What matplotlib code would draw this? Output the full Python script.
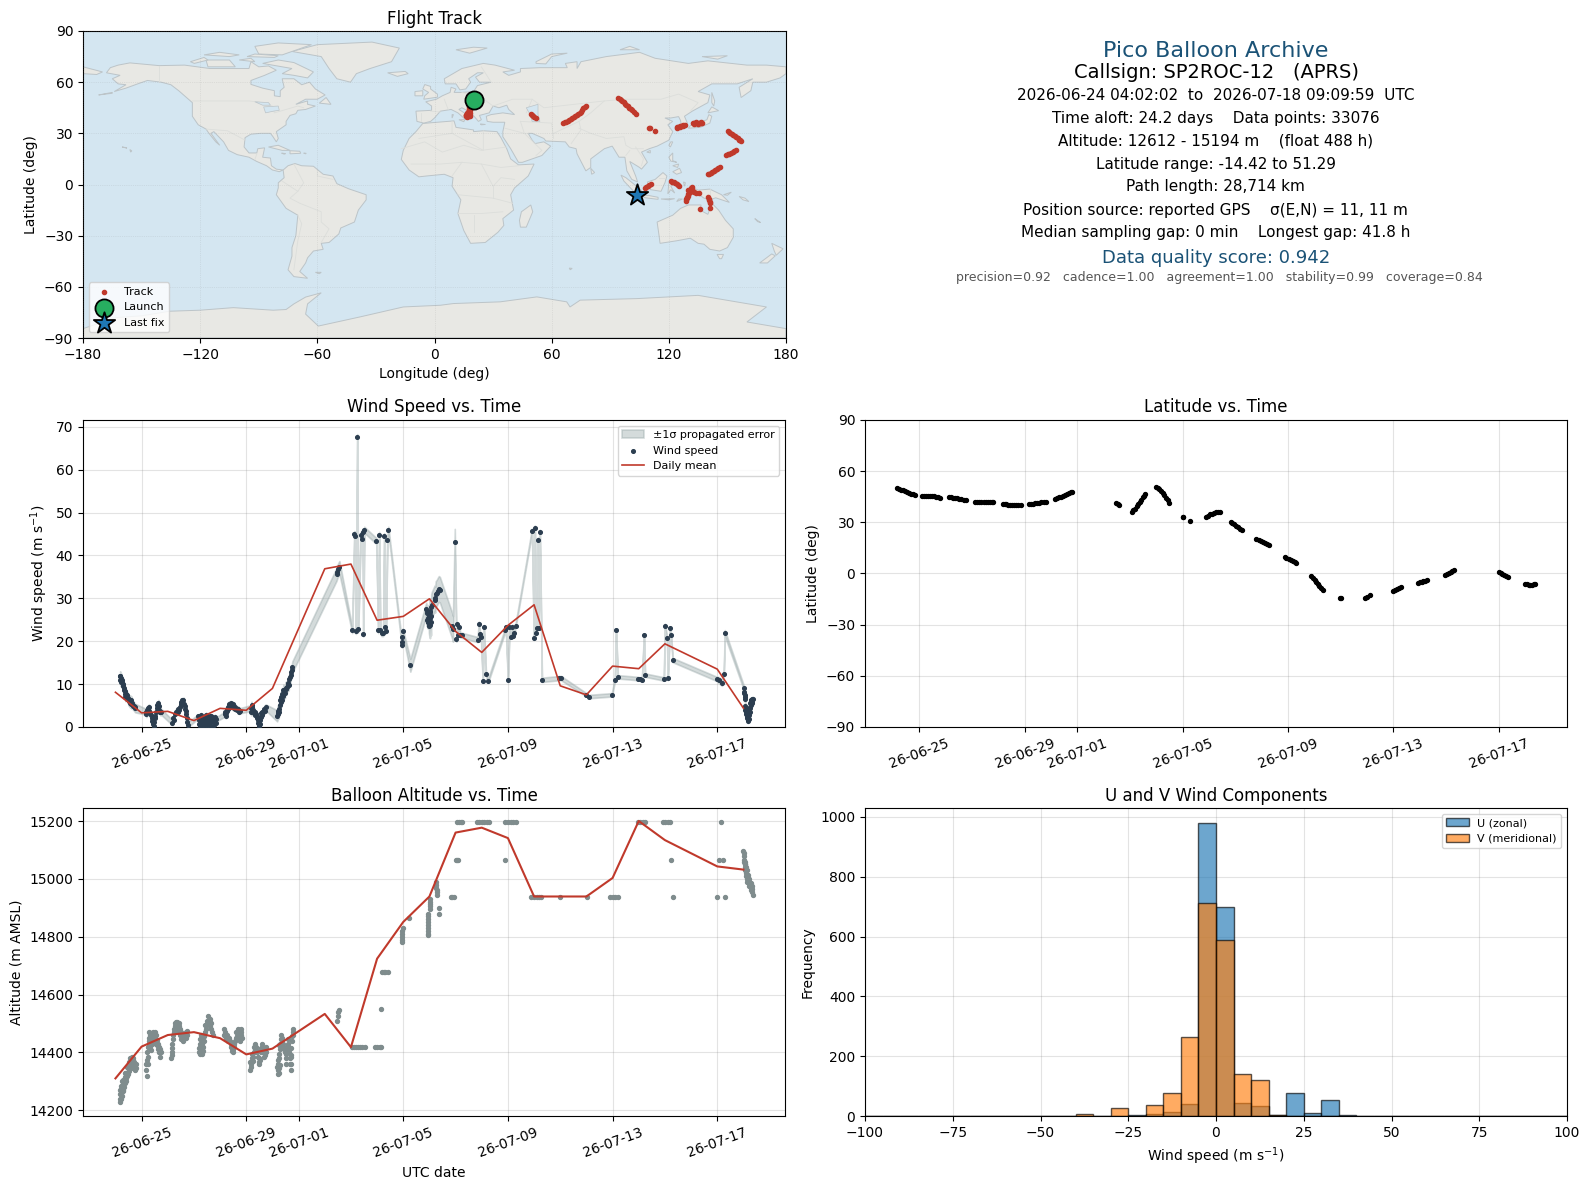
import numpy as np
import matplotlib
matplotlib.use("Agg")
import matplotlib.pyplot as plt
import matplotlib.dates as mdates
from matplotlib.patches import Polygon

# all times are days since 2026-06-24 00:00 UTC
START = np.datetime64("2026-06-24T00:00:00")

# --- map outlines (lon, lat) ---
north_america = [(-168,65.5),(-166,68.5),(-162,70),(-156,71.3),(-141,69.7),(-128,70),(-115,68),(-108,68),(-95,68),(-94,72),(-90,69),(-85,69.5),(-81,67),(-87,64),(-94,61),(-94,58.7),(-88,56.5),(-82,55),(-82,52),(-79,51.5),(-79,55),(-77,57),(-78,62),(-72,62),(-68,58.5),(-64,60),(-61,56),(-56,52.5),(-60,50),(-66,50),(-71,47),(-65,49),(-65,47),(-61,46),(-66,44),(-70,43.5),(-71,41.5),(-74,40.5),(-76,37),(-76,35),(-81,31),(-80,27),(-81,25),(-82.7,28),(-84,30),(-89,30),(-94,29.5),(-97,27.5),(-97.5,22),(-95,18.5),(-91,18.5),(-90.5,21),(-87,21.5),(-88,16),(-84,15.5),(-83.5,11),(-81,9),(-77.5,8.5),(-79.5,7.5),(-83,8.5),(-86,11),(-91,13.5),(-95,16),(-101,17.5),(-105.5,20),(-108,25),(-113,31),(-114.5,30),(-110,23),(-112,25),(-115.5,30),(-117,32.5),(-121,35),(-124,40),(-124,48),(-127,51),(-131,55),(-135,58.5),(-140,60),(-147,61),(-152,59),(-158,56.5),(-164,54.5),(-158,58.5),(-162,59),(-165,62),(-161,64)]
south_america = [(-77.5,8.5),(-75,11),(-71.5,12.3),(-68,11),(-62,10.7),(-57,6),(-52,5),(-50,0.5),(-44,-2.5),(-35,-6),(-35,-9),(-39,-15),(-41,-22),(-48,-25.5),(-49,-29),(-54,-34),(-58,-34.5),(-57,-38),(-62,-39),(-65,-43),(-66,-46),(-69,-51),(-65,-55),(-72,-54),(-75,-50),(-73,-42),(-73,-37),(-71,-30),(-70,-18),(-76,-14),(-81,-6),(-80,-2),(-80,1),(-77,4)]
africa = [(-6,35.8),(10,37.3),(11,33.5),(20,32),(20,31),(25,31.5),(32,31),(34,27.5),(37,21),(39,15),(43,11.5),(51,12),(48,5),(41,-2),(39,-6),(40.5,-15),(35,-20),(35.5,-24),(32.5,-28),(26,-34),(18.5,-34.5),(15,-27),(12,-17),(13.5,-9),(9,-1),(9.5,4),(5,6),(-4,5),(-8,4.5),(-13,8.5),(-17,14.7),(-16,20),(-13,27),(-9.5,31)]
eurasia = [(-9,37),(-9.5,43),(-1.5,43.5),(-1.5,46),(-4.5,48.5),(1,50),(4,52),(8,54),(8.5,57),(11,56),(10,54),(14,54),(20,54.5),(22,58),(29,60),(23,60),(21,63),(25,65.5),(22,65.5),(17.5,62),(18.5,60),(16,56),(13,55.5),(11,59),(5.5,59),(5,62),(14,68),(25,71),(31,70),(41,67),(35,66),(38,64),(44,66),(44,68),(54,68.5),(68,68.5),(67,71),(73,72),(73,68),(75,72),(88,75),(105,77.5),(113,74),(130,71),(140,72.5),(160,70),(170,70),(180,69),(180,65),(177,62.5),(170,60),(163,60),(162,55),(157,51),(156,57),(163,62),(155,59),(142,59),(135,54.5),(141,52.5),(140,48),(132,43),(128,40),(129.5,36),(126.5,34.5),(126,37.5),(125,39.8),(121,39),(118,39),(122,37),(119.5,35),(122,31),(120,26),(114,22.5),(110,21),(106,19),(109,13),(106,9),(105,10),(100,13.5),(103,5),(104,1.5),(101,3),(98.5,8),(97.5,16),(94.5,16),(91,22.5),(87,21),(80,15),(80,10),(77.5,8),(73,18),(72.5,21),(69,22),(67,25),(57,25.5),(56,27),(50,30),(48,30),(50,26),(51.5,24),(56,25),(59.5,22.5),(55,17),(45,13),(43,13),(39,21),(35,28),(35,31),(36,36.5),(30,36.5),(27,37),(26.5,40),(29,41),(35,42),(41,41),(38,44),(37,46.5),(33,45),(30,46),(28,42),(23,40.5),(24,38),(22.5,37),(19.5,41),(19,42),(14,45),(12.5,44),(18,40),(16,38),(12,42),(8.5,44),(3,43),(0,39),(-2,37),(-5.5,36)]
australia = [(114,-22),(122,-18),(126,-14),(130,-12),(136.5,-12),(136,-15),(140,-17.5),(142,-11),(145.5,-15),(149,-21),(153,-26),(153,-31),(150,-37),(146,-39),(141,-38),(138,-35),(135,-34.5),(131,-31.5),(124,-33),(115.5,-34.5),(115,-30)]
greenland = [(-73,78),(-60,82),(-32,83.5),(-18,80),(-22,72),(-33,68),(-40,65),(-43,60),(-50,62),(-54,68),(-58,75)]
antarctica = [(-180,-84.5),(-163,-78),(-150,-77),(-135.6,-74.3),(-120,-73.7),(-103,-72.2),(-82.6,-73.7),(-76,-73.3),(-72,-70),(-66,-66),(-58,-63.5),(-65,-70),(-66,-76),(-59.5,-83),(-38,-77.6),(-16,-71.8),(3,-70.8),(9.7,-69.8),(33.6,-68.8),(52.4,-65.9),(67.7,-68.8),(69.4,-71.8),(74.6,-67.8),(103.6,-66.9),(135,-65),(170,-71.8),(160,-80.6),(180,-84.5),(180,-90),(-180,-90)]
islands = [
    [(-180,69),(-175,67.5),(-170,66),(-173,64.5),(-180,65)],
    [(-80,73),(-72,71.5),(-62,66),(-65,62.5),(-72,64),(-78,65),(-73,68),(-88,71)],
    [(-117,73),(-105,73),(-102,69),(-116,69)],
    [(-90,76.5),(-78,76),(-63,82),(-80,83),(-92,81)],
    [(-125,72),(-118,74.5),(-116,73),(-123,71)],
    [(-96,75),(-82,74.5),(-80,75.5),(-92,76.5)],
    [(-118,76),(-105,75),(-100,76),(-110,77.5)],
    [(-100,73),(-92,72),(-94,74)],
    [(-59,47.7),(-53,47),(-55.5,51)],
    [(-85,22),(-80,23),(-74,20),(-78,20)],
    [(-74,19.8),(-69,19.5),(-68.5,18.3),(-74,18)],
    [(-67,18.4),(-65.7,18.3),(-66,18)],
    [(-78.3,18.4),(-76.3,18.1),(-77,17.8)],
    [(-24,65.5),(-15,66.3),(-13.5,65),(-19,63.4)],
    [(-5.5,50),(1.5,51.2),(1.5,53),(-2,56),(-2,57.5),(-5,58.6),(-6,56),(-3,54),(-5,52)],
    [(-10,52),(-6,52),(-6,55),(-10,54.5)],
    [(11,79),(20,80.5),(27,80),(18,77)],
    [(52,71),(57,70.7),(60,75),(68,77),(60,76.5),(52,72)],
    [(95,79),(105,79),(100,81)],
    [(137,75),(150,75.5),(145,73.5)],
    [(142,54),(143.5,49),(143,46),(142,48)],
    [(130,33),(136,33.5),(141,36),(142,40),(140.5,41),(139.5,38),(136,36.5),(131,34.5)],
    [(140,42),(145.5,43.3),(142,45.5)],
    [(120,23),(121,25),(122,25),(120.8,22)],
    [(108.7,19),(110.5,20),(110.5,18.5)],
    [(120,16),(122,18.5),(122,14),(124,13),(121,13.7)],
    [(122,7.5),(125.5,9.5),(126.5,7),(124,6)],
    [(122,11),(125,12),(124.5,10)],
    [(95.5,5.5),(98,4),(104,-1.5),(106,-3.5),(105.5,-6),(102,-4),(97,2)],
    [(105.5,-6.5),(110,-6.5),(114.5,-7.5),(114.5,-8.7),(108,-7.8)],
    [(109,1.5),(113,3),(117,7),(119,5),(118,1),(116,-4),(110.5,-3)],
    [(119.5,-5.5),(120,1),(125,1.5),(121,-1),(123,-5),(121,-3)],
    [(131,-1),(135,-3.3),(141,-2.7),(147,-6),(151,-10.5),(144,-7.8),(141,-9),(138,-8),(133,-4)],
    [(148,-6),(152,-4.5),(150,-6.3)],
    [(156,-7),(159,-8),(161,-10),(158,-9)],
    [(124,-10),(127,-8.5),(125,-8.5)],
    [(116,-8.5),(123,-8.3),(120,-9)],
    [(127.5,1.5),(128,-1),(128.5,1)],
    [(80,9.5),(82,7),(80.5,6)],
    [(49.3,-12),(50.3,-16),(47,-25),(44,-25),(43.5,-21),(44.5,-16)],
    [(144.7,-41),(148,-41),(147,-43.5),(146,-43.5)],
    [(172.7,-34.5),(178.5,-37.7),(175,-41.5),(174,-39)],
    [(172.7,-40.7),(174.5,-41.8),(170.5,-46),(166.5,-46)],
    [(164,-20),(167,-22.3),(165.5,-21.8)],
    [(69,-49),(70.5,-49.2),(69.5,-50)],
    [(-61,-51.5),(-58,-51.5),(-59,-52.3)],
    [(-156,20.5),(-155,19.7),(-155.6,19)],
    [(-160,22),(-157.5,21.3),(-158,21.6)],
    [(-172,52.5),(-165,54),(-165,53.5)],
    [(9,41),(9.7,41),(9,39)],
    [(12.5,38),(15.5,38),(15,36.8)],
    [(23.5,35.5),(26,35.2),(24,35)],
]
inland_water = [
    [(47,45),(53,47),(53,41),(54,37),(50,37),(49,41)],
    [(-92,48.5),(-85,48),(-84,46.5),(-88,46.5)],
    [(-87.5,45.5),(-80,46),(-79.5,43.5),(-82.5,43),(-86.5,42)],
]
borders = [
    [(-141,69.7),(-141,60)], [(-124,49),(-95,49),(-88,48),(-83,46),(-82,42),(-76,44),(-70,46),(-67,45)],
    [(-117,32.5),(-106,31.5),(-97,26)], [(-92,14.5),(-91,18)], [(-72,12),(-67,1),(-70,-4),(-74,-8),(-69,-11),(-58,-16),(-58,-22),(-54,-26),(-58,-34)],
    [(-60,8),(-60,5),(-52,3)], [(-78,2),(-70,-4)], [(-70,-18),(-68,-23),(-70,-33),(-72,-50)], [(-8,27),(9,30),(9,37)], [(9,30),(25,20),(25,31.5)],
    [(-17,21),(-5,25),(4,19),(15,23),(24,20),(37,22)], [(-12,12),(3,12),(14,13),(24,12),(34,10),(43,11)], [(14,13),(9,5)], [(24,12),(30,-1),(34,4),(41,3)],
    [(12,-6),(30,-8),(40,-11)], [(12,-17),(24,-17),(35,-16)], [(20,-18),(20,-28)], [(30,-1),(30,-8)], [(36,33),(46,30),(48,30)],
    [(44,37),(46,30),(55,20),(52,17)], [(44,37),(60,36),(61,27)], [(61,30),(74,37),(75,32),(70,24)], [(74,33),(80,30),(88,27),(97,28),(98,23),(101,21),(107,21)],
    [(74,37),(80,42),(87,49),(98,50),(116,50),(125,53),(135,48),(131,43)], [(87,49),(56,45),(50,50),(47,42)], [(30,46),(40,50),(50,50)],
    [(14,54),(24,51),(30,46)], [(24,69),(29,60)], [(5,50),(7,44)], [(-2,43),(3,42.5)], [(-7,42),(-7,37)], [(98,17),(100,20)], [(103,22),(107,15),(106,11)],
    [(141,-2.7),(141,-9)], [(115,4),(118,4)],
]

# --- flight track ---
track_lon = [16,16.7,17.5,18.2,16.3,17.1,17.9,16.6,17.4,18.1,17,17.8,18.3,17.5,18.2,17.8,18.6,18.2,19,18.6,19.3,19,19.5,19.6,17.2,16,
    49.3,49.9,50.5,51.2,51.9,
    66,66.8,67.5,68.3,69,69.8,70.5,71.2,72,72.8,73.5,74.3,75,75.7,76.3,76.9,77.5,
    94.2,94.9,95.5,96.2,97,97.7,98.3,99,99.7,100.4,101,102,103,
    110,110.4,113.1,
    124,124.8,125.6,126.4,127.3,128.3,124.2,125.5,127,
    132.3,133,133.7,134.4,135.2,136,136.6,137.2,133,135,136.5,134,
    150.2,150.9,151.5,152.3,153,153.7,154.5,155.3,156,156.5,157,
    149.3,150.1,151,151.8,152.7,153.5,154.4,
    140,140.7,141.5,142.2,143,143.7,144.5,145.3,146,
    121,121.8,122.5,123.2,124,124.7,125.3,
    107.8,108.5,109.3,110,110.8,
    128.7,129,129.2,129.5,129.7,130,130.3,130.7,131,131.3,131.6,132.1,
    130,130.8,131.5,132.3,133,134,135.2,
    140.3,140.5,140.7,140.9,141.1,141,135.8]
track_lat = [40,39.8,40,40.2,40.8,41,41,41.8,42,42,42.8,43,43.5,44,44.5,45.2,45.5,46.2,46.5,47.2,47.5,48.3,49,50,41.2,40.5,
    41.6,41,40.4,39.8,39.2,
    36,36.4,36.8,37.4,38,38.5,39,39.5,40,40.6,41.2,42,42.8,43.7,44.6,45.4,46.3,
    50.8,50.2,49.6,49,48.3,47.4,46.6,45.8,45,44.3,43.5,42.5,41.6,
    33.2,33,31.4,
    33.7,33.9,34.2,34.5,34.7,35,33.2,33.8,34.3,
    36,36,36,36,36,36,36,36,35.6,35.6,36.4,36.4,
    31.2,30.6,30,29.5,29,28.4,27.8,27,26.3,25.8,25.3,
    17.3,17.6,18,18.5,19,19.6,20.2,
    5.9,6.3,6.8,7.3,7.8,8.3,8.8,9.4,10,
    1.8,1.5,1.2,0.7,0.2,-0.2,-0.6,
    -1.8,-1.2,-0.6,0,0.4,
    -9.4,-8.7,-8,-7.2,-6.5,-5.7,-5,-4.2,-3.5,-2.8,-2.2,-1.2,
    -3.5,-3.6,-3.8,-4,-4.3,-4.7,-5.1,
    -7.6,-8.4,-9.2,-10.1,-11,-13.5,-14.1]
launch_lon, launch_lat = 20, 49.6
last_lon, last_lat = 103.6, -6.1

# --- wind speed ---
wind_days = [0.17,0.19,0.2,0.22,0.25,0.28,0.31,0.35,0.38,0.42,0.46,0.5,0.55,0.6,0.67,0.73,
    1.15,1.2,1.25,1.28,1.32,1.38,1.42,1.46,1.48,1.55,1.6,1.64,1.68,1.72,
    2.18,2.22,2.3,2.38,2.44,2.5,2.55,2.6,2.64,2.68,2.72,2.76,
    3.17,3.2,3.25,3.3,3.35,3.4,3.45,3.5,3.55,3.6,3.65,3.7,3.75,3.8,3.84,
    4.18,4.22,4.26,4.3,4.34,4.4,4.48,4.55,4.62,4.7,4.76,
    5.17,5.2,5.25,5.32,5.38,5.42,5.46,5.49,5.54,5.58,5.62,5.68,5.74,
    6.2,6.22,6.24,6.28,6.3,6.33,6.38,6.42,6.5,6.56,6.6,6.65,6.7,6.74,6.76,
    8.45,8.48,8.52,8.56,9.05,9.13,9.17,9.19,9.24,9.28,9.37,9.41,9.45,9.47,9.51,
    9.97,10.04,10.08,10.12,10.17,10.23,10.27,10.3,10.34,10.39,10.43,
    10.95,10.96,10.97,10.98,11.27,
    11.88,11.9,11.92,11.94,11.96,11.98,12.0,12.03,12.05,12.07,12.09,
    12.2,12.22,12.24,12.28,12.32,12.36,12.4,
    12.87,12.9,12.97,13.03,13.05,13.08,13.13,13.18,13.23,
    13.84,13.89,13.93,13.97,14.04,14.08,14.16,14.24,
    14.9,14.92,15.0,15.06,15.11,15.17,15.2,15.23,15.29,
    15.92,15.99,16.03,16.07,16.11,16.15,16.17,16.22,16.3,16.97,17.03,
    18.0,18.1,18.97,19.09,19.13,19.2,19.97,20.03,20.12,20.2,20.24,
    20.96,21.0,21.08,21.11,21.19,21.23,21.3,22.99,23.05,23.18,23.25,23.29,
    24.02,24.03,24.05,24.06,24.07,24.08,24.1,24.12,24.14,24.16,24.18,24.2,24.22,24.24,24.26,24.28,24.3,24.33,24.36]
wind_speed = [11.0,11.8,10.5,11.5,10.6,9.5,9.0,7.8,7.0,7.2,6.6,6.0,5.6,5.3,5.0,4.6,
    3.6,4.0,4.4,4.6,3.2,2.0,0.6,0.2,1.2,3.5,5.2,5.6,4.0,3.4,
    1.0,1.6,3.6,4.1,4.0,5.3,6.2,6.3,4.8,3.8,2.0,0.5,
    2.5,0.8,0.3,2.2,0.2,1.6,0.5,2.6,0.4,1.8,0.3,2.4,0.5,2.4,1.0,
    3.0,2.6,3.8,4.7,5.4,5.5,5.3,5.0,4.5,4.2,3.8,
    4.4,5.2,3.9,3.6,3.0,2.2,1.0,0.3,1.6,3.2,3.6,4.2,4.6,
    3.0,3.2,3.4,5.2,6.2,7.0,7.8,8.6,9.2,9.4,10.3,11.2,12.2,13.2,14.0,
    35.6,36.2,36.8,37.2,22.6,45.0,44.6,22.4,67.6,22.8,44.8,43.9,45.4,21.8,46.0,
    43.4,22.6,44.8,22.7,21.9,21.9,44.5,23.3,22.5,43.6,46.0,
    19.2,19.8,21.0,22.3,14.4,
    27.5,26.5,27.0,25.5,24.5,23.5,24.0,25.5,26.0,28.0,28.5,
    30.0,29.7,31.0,31.3,31.8,32.2,32.0,
    23.6,22.9,43.2,20.5,24.0,21.5,23.3,21.5,21.4,
    20.4,24.0,21.8,21.0,10.8,23.3,12.4,10.8,
    22.7,23.3,11.0,23.3,21.1,23.4,21.3,21.9,23.6,
    45.8,20.8,46.5,21.9,23.0,43.7,23.2,45.5,11.0,11.4,11.4,
    7.5,7.1,7.5,11.0,22.6,11.7,11.3,11.2,11.0,21.4,12.1,
    11.2,23.6,20.8,11.4,23.0,21.4,15.6,11.2,11.0,10.3,12.4,21.9,
    9.1,8.2,7.4,6.5,5.0,4.0,3.5,2.8,2.0,1.8,2.4,3.4,3.8,4.5,5.5,6.2,6.4,6.5,6.6]
# points inside the solid blobs
wind_days_dense = [0.18,0.21,0.24,0.27,0.3,0.33,0.36,0.4,0.44,0.48,0.52,0.56,0.6,0.64,0.7,0.76,
    1.18,1.22,1.26,1.3,1.35,1.4,1.44,1.5,1.52,1.58,1.62,1.66,1.7,1.74,
    2.2,2.26,2.34,2.4,2.47,2.52,2.58,2.62,2.66,2.7,2.74,
    3.18,3.22,3.28,3.32,3.38,3.42,3.48,3.52,3.58,3.62,3.68,3.72,3.78,3.82,3.86,3.27,3.47,3.67,
    4.2,4.24,4.28,4.32,4.36,4.38,4.44,4.46,4.52,4.58,4.66,4.72,
    5.19,5.22,5.28,5.34,5.4,5.44,5.47,5.52,5.56,5.6,5.65,5.7,
    6.18,6.21,6.26,6.32,6.35,6.4,6.45,6.48,6.53,6.58,6.62,6.68,6.72,
    11.9,11.93,11.97,12.02,12.04,12.01,12.06,
    24.04,24.06,24.09,24.11,24.13,24.15,24.17,24.19,24.21,24.23,24.25,24.27,24.29,24.31,24.34]
wind_speed_dense = [12.0,11.2,11.0,10.0,9.8,8.6,8.4,7.6,7.4,6.8,6.4,6.4,6.2,5.6,4.9,4.4,
    3.0,3.6,3.4,3.8,2.8,1.4,1.2,2.0,2.6,4.4,4.6,4.8,3.6,3.6,
    2.0,3.0,3.4,3.4,4.6,5.8,5.4,5.4,4.2,3.0,1.2,
    1.6,1.8,1.2,1.2,1.0,2.2,1.6,1.4,1.0,2.6,1.4,1.6,1.4,1.8,1.8,2.8,2.9,2.5,
    3.4,3.2,4.2,4.2,4.6,5.0,4.8,4.6,4.4,4.2,4.0,3.6,
    3.4,4.6,3.2,2.8,2.6,1.6,0.8,0.8,2.4,2.8,3.4,3.8,
    2.6,3.8,4.2,5.8,6.4,7.2,8.2,8.0,8.8,9.8,9.8,11.6,12.8,
    25.0,24.5,26.0,23.7,27.0,26.8,24.4,
    8.0,7.0,3.0,4.2,2.4,2.8,1.4,2.0,1.8,2.9,3.4,4.6,5.2,5.6,5.9]
# 1 sigma for each day of the flight
sigma_by_day = [1.0,0.7,0.6,0.5,0.6,0.7,1.3,1.5,1.5,0.7,0.7,1.5,3.0,0.6,0.5,0.5,0.5,0.5,0.4,0.4,0.4,0.5,0.5,0.7,0.5]
mean_days = [0,1,2,3,4,5,6,8,9,10,11,12,13,14,15,16,17,18,19,20,21,23,24]
mean_speed = [8.1,3.3,3.65,1.5,4.35,3.9,9.0,36.9,38.0,24.9,25.8,29.9,22.3,17.4,23.7,28.5,9.6,7.5,14.2,13.6,19.4,13.5,4.4]

# --- latitude ---
lat_days = [0.17,0.24,0.31,0.38,0.45,0.52,0.6,0.67,0.75,0.84,
    1.1,1.17,1.25,1.32,1.4,1.47,1.55,1.62,1.7,1.78,
    2.13,2.2,2.28,2.35,2.43,2.5,2.6,2.68,2.77,
    3.12,3.2,3.28,3.36,3.44,3.52,3.6,3.68,3.75,3.8,
    4.17,4.24,4.3,4.38,4.45,4.52,4.6,4.68,4.76,4.85,
    5.16,5.24,5.32,5.4,5.48,5.56,5.64,5.72,5.8,
    6.15,6.22,6.3,6.38,6.45,6.52,6.6,6.68,6.75,6.8,
    8.48,8.54,8.6,
    9.07,9.13,9.19,9.25,9.31,9.37,9.42,9.48,9.53,9.58,
    9.98,10.05,10.11,10.18,10.24,10.3,10.37,10.43,10.49,
    11.0,11.03,11.28,
    11.88,11.95,12.02,12.1,12.18,12.26,12.33,12.4,
    12.82,12.89,12.96,13.03,13.1,13.18,13.25,
    13.8,13.88,13.96,14.04,14.12,14.2,14.28,
    14.87,14.94,15.02,15.1,15.17,15.25,15.32,
    15.89,15.95,16.01,16.07,16.13,16.19,16.25,16.31,
    16.97,17.0,17.94,18.0,18.1,
    19.0,19.07,19.13,19.2,19.27,
    19.92,20.0,20.07,20.14,20.21,20.28,
    20.96,21.03,21.1,21.17,21.24,21.3,
    23.0,23.07,23.14,23.21,23.28,23.35,
    23.99,24.06,24.13,24.2,24.27,24.33,24.38]
lat_values = [50.0,49.6,49.1,48.7,48.2,47.7,47.2,46.8,46.5,46.1,
    45.5,45.6,45.6,45.6,45.5,45.4,45.2,45.0,44.8,44.5,
    44.9,44.7,44.5,44.3,44.0,43.8,43.6,43.3,43.1,
    41.8,41.8,41.8,41.8,41.8,41.8,41.8,41.8,41.8,41.8,
    41.0,40.8,40.6,40.2,40.0,39.9,40.0,40.2,40.3,40.4,
    40.6,40.8,40.9,41.1,41.3,41.5,41.7,41.9,42.0,
    43.7,44.1,44.6,45.0,45.5,46.0,46.6,47.1,47.5,47.8,
    41.6,40.8,40.0,
    36.3,37.2,38.0,39.3,40.6,41.8,43.0,44.6,45.7,46.7,
    51.0,50.3,49.3,48.5,47.4,46.3,44.5,43.0,41.6,
    33.3,33.1,31.0,
    33.3,34.0,34.6,35.1,35.7,36.3,36.0,35.9,
    30.4,29.6,28.8,28.0,27.2,26.3,25.5,
    20.2,19.6,19.1,18.5,17.9,17.3,16.7,
    9.4,8.9,8.4,8.0,7.4,6.9,6.3,
    -1.6,-2.7,-3.9,-5.0,-6.1,-7.3,-8.6,-9.8,
    -14.1,-14.1,-14.1,-13.6,-12.7,
    -10.2,-9.6,-9.0,-8.4,-7.8,
    -5.5,-5.2,-4.9,-4.6,-4.2,-3.9,
    -0.8,-0.2,0.4,1.0,1.5,2.0,
    0.6,0.1,-0.4,-1.0,-1.5,-2.0,
    -5.9,-6.3,-6.6,-6.7,-6.5,-6.2,-5.9]

# --- altitude ---
alt_days = [0.17,0.19,0.21,0.23,0.25,0.28,0.3,0.33,0.36,0.39,0.42,0.45,0.48,0.51,0.54,0.57,0.6,0.63,0.66,0.69,0.72,0.75,
    1.17,1.2,1.24,1.29,1.34,1.37,1.43,1.51,1.58,1.65,1.72,1.25,1.32,1.4,1.55,1.62,1.68,
    2.14,2.16,2.18,2.2,2.24,2.26,2.3,2.36,2.42,2.46,2.5,2.55,2.6,2.65,2.68,
    3.2,3.23,3.26,3.28,3.3,3.35,3.38,3.42,3.46,3.5,3.55,3.6,3.65,3.25,3.4,
    4.14,4.18,4.22,4.3,4.38,4.42,4.48,4.52,4.58,4.62,4.68,4.72,4.76,4.8,4.8,
    5.15,5.17,5.2,5.25,5.3,5.33,5.38,5.42,5.47,5.5,5.55,5.6,5.65,5.7,5.75,
    6.2,6.22,6.25,6.28,6.3,6.33,6.37,6.42,6.47,6.5,6.52,6.55,6.6,6.65,6.68,6.7,6.74,6.78,6.78,
    8.46,8.49,8.52,8.55,9.05,9.12,9.2,9.28,9.36,9.44,9.52,9.93,10.0,10.1,10.15,10.15,10.18,10.25,10.3,10.4,
    10.95,10.96,10.97,10.98,11.22,11.93,11.94,11.93,11.94,11.95,12.04,12.04,12.03,12.28,12.27,12.27,12.3,12.36,12.36,
    12.82,12.88,12.95,13.0,13.05,13.1,14.87,13.05,13.12,13.2,13.26,13.82,13.9,14.0,14.1,14.2,14.28,14.89,15.0,15.1,15.2,15.3,
    15.9,16.0,16.1,16.2,16.28,16.98,18.02,18.92,19.0,19.1,19.2,21.3,23.0,23.28,19.97,20.05,20.15,20.25,20.92,21.0,21.1,21.18,23.15,21.22,23.05,23.22,
    24.0,24.02,24.03,24.05,24.06,24.08,24.1,24.12,24.14,24.17,24.2,24.22,24.25,24.28,24.3,24.33,24.36,
    0.16,0.18,0.2,0.22,0.24,0.27,0.29,0.32,0.35,0.38,0.41,0.44,0.47,0.5,0.53,0.56,0.59,0.62,0.65,0.68,0.71,0.74,0.77,0.78,
    1.18,1.2,1.22,1.25,1.27,1.28,1.3,1.33,1.36,1.39,1.41,1.45,1.48,1.5,1.53,1.56,1.6,1.63,1.66,1.7,1.73,
    2.15,2.17,2.19,2.22,2.28,2.33,2.38,2.44,2.48,2.52,2.58,2.63,2.7,2.72,2.75,2.34,2.4,
    3.21,3.24,3.27,3.29,3.32,3.36,3.39,3.44,3.48,3.52,3.57,3.6,3.62,3.66,3.7,3.72,
    4.16,4.2,4.26,4.34,4.4,4.45,4.5,4.55,4.6,4.65,4.7,4.74,4.78,4.82,4.44,4.5,
    5.16,5.18,5.22,5.27,5.31,5.35,5.4,5.44,5.48,5.52,5.57,5.62,5.67,5.72,5.77,5.35,
    6.18,6.21,6.21,6.24,6.24,6.27,6.27,6.3,6.31,6.35,6.4,6.44,6.5,6.56,6.58,6.63,6.66,6.7,6.72,6.76,6.72,6.72,6.8,
    11.93,11.94,11.93,11.94,12.04,12.03,12.28,12.27,10.96,10.97,
    24.01,24.04,24.06,24.07,24.09,24.11,24.13,24.15,24.18,24.21,24.23,24.26,24.29,24.31,24.34]
alt_values = [14230,14255,14240,14275,14250,14290,14270,14300,14315,14300,14330,14320,14345,14335,14365,14345,14375,14350,14380,14345,14365,14340,
    14340,14319,14385,14448,14440,14408,14465,14470,14443,14420,14385,14360,14420,14455,14460,14430,14400,
    14380,14400,14430,14460,14480,14500,14505,14505,14500,14480,14470,14460,14450,14450,14470,
    14400,14430,14460,14445,14410,14420,14440,14470,14480,14510,14525,14505,14500,14395,14455,
    14480,14470,14450,14440,14440,14420,14400,14430,14440,14470,14480,14450,14440,14460,14480,
    14340,14350,14380,14370,14400,14430,14420,14400,14380,14360,14400,14430,14400,14390,14420,
    14340,14360,14380,14410,14430,14460,14440,14420,14400,14380,14360,14420,14430,14400,14360,14390,14440,14470,14480,
    14510,14525,14540,14545,14418,14418,14418,14418,14418,14418,14418,14418,14418,14418,14418,14549,14677,14677,14677,14677,
    14780,14800,14820,14830,14865,14805,14820,14840,14860,14880,14895,14920,14930,14945,14970,14990,14960,14880,14900,
    14937,14937,14937,15065,15065,15065,15065,15198,15198,15198,15198,15198,15198,15198,15198,15198,15198,15198,15198,15198,15198,15198,
    14937,14937,14937,14937,14937,14937,14937,14937,14937,14937,14937,14937,14937,14937,15198,15198,15198,15198,15198,15198,15198,15198,15198,15065,15065,15065,
    15095,15090,15065,15050,15040,15060,15020,15030,15000,15005,14990,14975,14985,14970,14985,14965,14943,
    14240,14270,14285,14255,14300,14265,14305,14280,14295,14330,14310,14350,14325,14365,14345,14380,14355,14385,14360,14375,14350,14355,14360,14345,
    14360,14375,14400,14420,14440,14470,14425,14460,14445,14430,14450,14470,14450,14455,14440,14430,14425,14410,14400,14410,14400,
    14390,14415,14445,14470,14490,14490,14490,14490,14460,14445,14440,14465,14450,14475,14460,14475,14470,
    14415,14445,14420,14395,14430,14405,14455,14495,14495,14500,14510,14490,14515,14480,14470,14460,
    14460,14455,14460,14450,14430,14415,14410,14420,14450,14455,14465,14470,14470,14450,14405,14425,
    14365,14360,14395,14385,14420,14415,14405,14385,14365,14375,14415,14415,14385,14405,14400,14400,
    14350,14325,14375,14330,14395,14345,14425,14355,14445,14450,14430,14410,14395,14400,14445,14415,14380,14340,14415,14455,14360,14385,14460,
    14810,14830,14850,14870,14905,14912,14955,14980,14790,14810,
    15080,15060,15030,15050,15040,15010,15015,14990,15015,15000,14985,14975,14960,14975,14955]
alt_mean_days = [0,1,2,3,4,5,6,8,9,10,11,12,13,14,15,16,17,18,19,20,21,23,24]
alt_mean = [14310,14420,14460,14470,14449,14393,14413,14533,14418,14724,14851,14939,15160,15177,15141,14939,14939,14939,15003,15200,15134,15043,15032]

# --- wind components histogram, bins from -100 to 100 every 5 ---
bin_edges = list(range(-100, 105, 5))
u_counts = [0]*15 + [3,8,12,40,980,698,42,33,5,78,9,55,3] + [0]*12
v_counts = [0]*12 + [6,0,28,1,36,76,263,711,587,142,122,2,0,0,0,0] + [0]*12

date_ticks = ["2026-06-25","2026-06-29","2026-07-01","2026-07-05","2026-07-09","2026-07-13","2026-07-17"]

RED = "#c0392b"
NAVY = "#2c3e50"
GREY = "#7f8c8d"
TITLE_BLUE = "#1a5276"


def to_dates(days):
    return START + (np.array(days, dtype=float) * 86400).astype("timedelta64[s]")


def axes_px(fig, left, top, right, bottom):
    w, h = fig.get_size_inches() * fig.dpi
    return fig.add_axes([left / w, 1 - bottom / h, (right - left) / w, (bottom - top) / h])


def time_axis(ax, first_day=-1.24):
    ax.set_xlim(to_dates([first_day])[0], to_dates([25.59])[0])
    ax.set_xticks([np.datetime64(d) for d in date_ticks])
    ax.xaxis.set_major_formatter(mdates.DateFormatter("%y-%m-%d"))
    ax.tick_params(axis="x", labelrotation=20)
    ax.grid(True, color="gray", alpha=0.22, linewidth=0.8)
    ax.set_axisbelow(True)


fig = plt.figure(figsize=(15.9, 11.89), dpi=100)
plt.rcParams["axes.titlepad"] = 5.3

# flight track map
ax = axes_px(fig, 83, 31, 786, 338)
ax.set_facecolor("#d4e6f1")
for shape in [north_america, south_america, africa, eurasia, australia, greenland, antarctica] + islands:
    ax.add_patch(Polygon(shape, closed=True, facecolor="#e8e8e4", edgecolor="#bcc4c8", linewidth=0.7, zorder=1))
for shape in inland_water:
    ax.add_patch(Polygon(shape, closed=True, facecolor="#d4e6f1", edgecolor="#bcc4c8", linewidth=0.5, zorder=1.2))
for line in borders:
    xs, ys = zip(*line)
    ax.plot(xs, ys, color="#dcdedb", linewidth=0.6, zorder=1.1)
ax.grid(True, color="gray", alpha=0.25, linewidth=0.5, linestyle=":", zorder=1.5)
ax.set_axisbelow(False)
ax.scatter(track_lon, track_lat, s=9, color=RED, zorder=3, label="Track")
ax.scatter(launch_lon, launch_lat, s=170, color="#27ae60", edgecolor="black", linewidth=1.3, zorder=4, label="Launch")
ax.scatter(last_lon, last_lat, s=260, color="#1f77b4", marker="*", edgecolor="black", linewidth=1.3, zorder=4, label="Last fix")
ax.set_xlim(-180, 180)
ax.set_ylim(-90, 90)
ax.set_xticks(range(-180, 181, 60))
ax.set_yticks(range(-90, 91, 30))
ax.set_xlabel("Longitude (deg)")
ax.set_ylabel("Latitude (deg)")
ax.set_title("Flight Track")
ax.legend(loc="lower left", fontsize=8)

# summary text
w_px, h_px = fig.get_size_inches() * fig.dpi
summary = [
    (1216, 51, "Pico Balloon Archive", 16, TITLE_BLUE),
    (1216, 73, "Callsign: SP2ROC-12   (APRS)", 14, "black"),
    (1216, 95, "2026-06-24 04:02:02  to  2026-07-18 09:09:59  UTC", 11, "black"),
    (1216, 118, "Time aloft: 24.2 days    Data points: 33076", 11, "black"),
    (1216, 141, "Altitude: 12612 - 15194 m    (float 488 h)", 11, "black"),
    (1216, 164, "Latitude range: -14.42 to 51.29", 11, "black"),
    (1215, 187, "Path length: 28,714 km", 11, "black"),
    (1215, 210, "Position source: reported GPS    \u03c3(E,N) = 11, 11 m", 11, "black"),
    (1216, 233, "Median sampling gap: 0 min    Longest gap: 41.8 h", 11, "black"),
    (1216, 258, "Data quality score: 0.942", 13, TITLE_BLUE),
    (1219, 278, "precision=0.92   cadence=1.00   agreement=1.00   stability=0.99   coverage=0.84", 9, "#555555"),
]
for x_px, y_px, line, size, colour in summary:
    fig.text(x_px / w_px, 1 - y_px / h_px, line, ha="center", va="center", fontsize=size, color=colour)

# wind speed
ax = axes_px(fig, 83, 420, 785, 727)
all_days = np.array(wind_days + wind_days_dense)
all_speed = np.array(wind_speed + wind_speed_dense)
order = np.argsort(all_days)
days_sorted = all_days[order]
speed_sorted = all_speed[order]
sigma = np.array(sigma_by_day)[days_sorted.astype(int)]
times = to_dates(days_sorted)
ax.fill_between(times, speed_sorted - sigma, speed_sorted + sigma, color="#95a5a6", alpha=0.4, linewidth=1.2, label="\u00b11\u03c3 propagated error")
ax.scatter(times, speed_sorted, s=7, color=NAVY, zorder=3, label="Wind speed")
ax.plot(to_dates(mean_days), mean_speed, color=RED, linewidth=1.2, zorder=4, label="Daily mean")
time_axis(ax)
ax.set_ylim(0, 71.6)
ax.set_ylabel("Wind speed (m s$^{-1}$)")
ax.set_title("Wind Speed vs. Time", pad=6)
ax.legend(loc="upper right", fontsize=8)

# latitude
ax = axes_px(fig, 865, 420, 1567, 727)
ax.scatter(to_dates(lat_days), lat_values, s=8, color="black", zorder=3)
time_axis(ax, first_day=-1.06)
ax.set_ylim(-90, 90)
ax.set_yticks(range(-90, 91, 30))
ax.set_ylabel("Latitude (deg)")
ax.set_title("Latitude vs. Time", pad=6)

# altitude
ax = axes_px(fig, 83, 808, 785, 1116)
ax.scatter(to_dates(alt_days), alt_values, s=8, color=GREY, zorder=3)
ax.plot(to_dates(alt_mean_days), alt_mean, color=RED, linewidth=1.5, zorder=4)
time_axis(ax)
ax.set_ylim(14180, 15245)
ax.set_yticks(range(14200, 15201, 200))
ax.set_xlabel("UTC date")
ax.set_ylabel("Altitude (m AMSL)")
ax.set_title("Balloon Altitude vs. Time")

# wind components
ax = axes_px(fig, 865, 808, 1567, 1116)
ax.bar(bin_edges[:-1], u_counts, width=5, align="edge", color="C0", alpha=0.65, edgecolor="black", linewidth=1, label="U (zonal)")
ax.bar(bin_edges[:-1], v_counts, width=5, align="edge", color="C1", alpha=0.65, edgecolor="black", linewidth=1, label="V (meridional)")
ax.set_xlim(-100, 100)
ax.set_ylim(0, 1030)
ax.set_xticks(range(-100, 101, 25))
ax.grid(True, color="gray", alpha=0.22, linewidth=0.8)
ax.set_axisbelow(True)
ax.set_xlabel("Wind speed (m s$^{-1}$)")
ax.set_ylabel("Frequency")
ax.set_title("U and V Wind Components")
ax.legend(loc="upper right", fontsize=8)

fig.savefig("out.png", dpi=100)
